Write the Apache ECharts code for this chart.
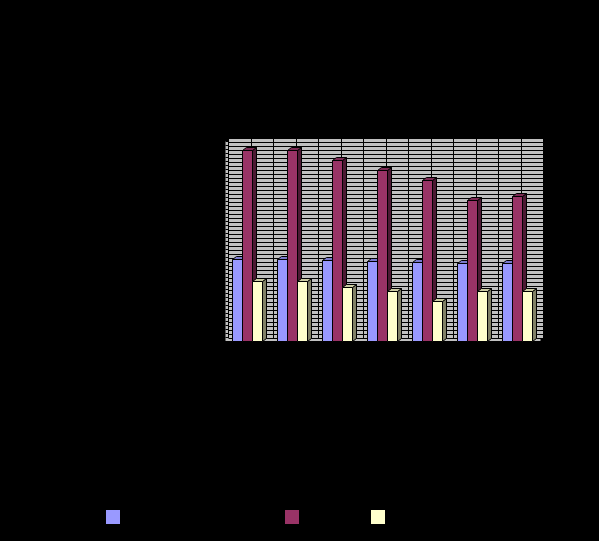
<!DOCTYPE html>
<html>
<head>
<meta charset="utf-8">
<style>html,body{margin:0;padding:0;background:#000}#c{width:599px;height:541px}</style>
<script src="https://cdn.jsdelivr.net/npm/echarts@6/dist/echarts.min.js"></script>
</head>
<body>
<div id="c"></div>
<script>
const categories = ['1','2','3','4','5','6','7'];
const seriesA = [20.5,20.5,20.2,20.0,19.7,19.5,19.5];
const seriesB = [47.7,47.7,45.2,42.7,40.2,35.2,36.2];
const seriesC = [15.0,15.0,13.5,12.5,10.0,12.5,12.5];
const yMax = 50;
const wallBands = 14;

const chart = echarts.init(document.getElementById('c'), null, {renderer:'canvas'});
const BW = 10, DX = 4, DY = 3;
function makeSeries(name, values, idx, front, top, side){
  return {
    name, type:'custom', xAxisIndex:0, yAxisIndex:0, z:5, clip:false,
    itemStyle:{color:front},
    encode:{x:0,y:1},
    data: values.map((v,i)=>[categories[i],v]),
    renderItem(params, api){
      const p = api.coord([api.value(0), api.value(1)]);
      const base = api.coord([api.value(0), 0]);
      const x0 = Math.round(p[0] - 1.5*BW + idx*BW) - 0.5, x1 = x0 + BW;
      const yt = Math.round(p[1]) + 0.5, yb = Math.round(base[1]) + 0.5;
      const st = {stroke:'#000', lineWidth:1};
      return {type:'group', children:[
        {type:'polygon', shape:{points:[[x1,yb],[x1+DX,yb-DY],[x1+DX,yt-DY],[x1,yt]]}, style:{fill:side,...st}},
        {type:'polygon', shape:{points:[[x0,yt],[x0+DX,yt-DY],[x1+DX,yt-DY],[x1,yt]]}, style:{fill:top,...st}},
        {type:'rect', shape:{x:x0,y:yt,width:BW,height:yb-yt}, style:{fill:front,...st}}
      ]};
    }
  };
}
const line = {show:true, lineStyle:{color:'#000', width:1}};
chart.setOption({
  animation:false,
  backgroundColor:'#000',
  legend:[
    {left:106, top:510, data:['Series A']},
    {left:285, top:510, data:['Series B']},
    {left:371, top:510, data:['Series C']}
  ].map(l=>({...l, icon:'rect', itemWidth:14, itemHeight:14, formatter:()=>'', selectedMode:false, padding:0, itemGap:0})),
  grid:[
    {left:225.5, top:141, width:315, height:200, show:true, backgroundColor:'#c0c0c0', borderWidth:0, z:0},
    {left:228.5, top:138, width:315, height:200, show:true, backgroundColor:'#c0c0c0', borderWidth:0, z:2}
  ],
  xAxis:[
    {type:'category', gridIndex:0, data:categories, axisLabel:{show:false}, axisTick:{show:false}, axisLine:{lineStyle:{color:'#000',width:1}}, splitLine:{show:false}, z:1},
    {type:'value', gridIndex:1, min:0, max:wallBands, interval:1, axisLabel:{show:false}, axisTick:{show:false}, axisLine:{show:false}, splitLine:line, z:3}
  ],
  yAxis:[
    {type:'value', gridIndex:0, min:0, max:yMax, interval:1, axisLabel:{show:false}, axisTick:{show:false}, axisLine:{show:false}, splitLine:line, z:1},
    {type:'value', gridIndex:1, min:0, max:yMax, interval:1, axisLabel:{show:false}, axisTick:{show:false}, axisLine:{show:false}, splitLine:line, z:3}
  ],
  series:[
    makeSeries('Series A', seriesA, 0, '#9999ff', '#7a7acc', '#4c4c80'),
    makeSeries('Series B', seriesB, 1, '#993366', '#7a2952', '#4c1933'),
    makeSeries('Series C', seriesC, 2, '#ffffcc', '#cccca3', '#808066')
  ]
});
</script>
</body>
</html>
